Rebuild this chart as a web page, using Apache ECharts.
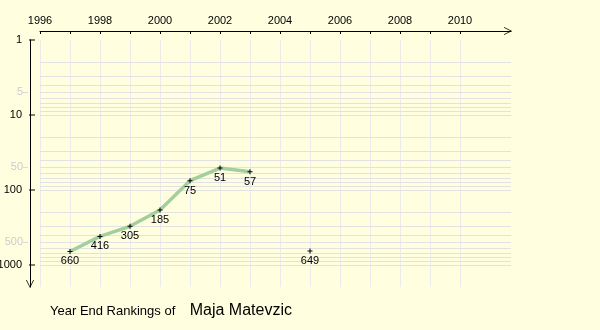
<!DOCTYPE html>
<html><head><meta charset="utf-8">
<script src="https://cdn.jsdelivr.net/npm/echarts@6/dist/echarts.min.js"></script>
<style>html,body{margin:0;padding:0;background:#ffffe0}#c{width:600px;height:330px}</style>
</head><body><div id="c"></div>
<script>
// ---- data ----
const years = [1997, 1998, 1999, 2000, 2001, 2002, 2003, 2004, 2005];
const ranks = [660, 416, 305, 185, 75, 51, 57, null, 649];
const xTickYears = [1996, 1997, 1998, 1999, 2000, 2001, 2002, 2003, 2004, 2005, 2006, 2007, 2008, 2009, 2010];
const xLabelYears = [1996, 1998, 2000, 2002, 2004, 2006, 2008, 2010];
const yMajorLabels = [1, 10, 100, 1000];
const yMinorLabels = [5, 50, 500];
const yGridValues = [2, 3, 4, 5, 6, 7, 8, 9, 10, 20, 30, 40, 50, 60, 70, 80, 90, 100, 200, 300, 400, 500, 600, 700, 800, 900, 1000];
const titleLead = 'Year End Rankings of';
const playerName = 'Maja Matevzic';

// ---- chart ----
const font = 'Liberation Sans';
const chevron = 'path://M0,10 L5,0 L10,10 L9,10 L5,2 L1,10 Z';
const plus = 'path://M2,0 L3,0 L3,2 L5,2 L5,3 L3,3 L3,5 L2,5 L2,3 L0,3 L0,2 L2,2 Z';

const seriesData = years.map((y, i) => [y, ranks[i] == null ? '-' : ranks[i]]);

const minorLabel = {
  show: true, position: 'start', distance: 12,
  formatter: p => '{v|' + p.value + '}{d|}',
  rich: {
    v: { color: '#cccccc', fontFamily: font, fontSize: 11 },
    d: { width: 5, height: 1, backgroundColor: '#dadada' }
  }
};
const majorLabel = {
  show: true, position: 'start', distance: 5,
  formatter: p => '{v|' + p.value + '}{s|}{d|}',
  rich: {
    v: { color: '#000', fontFamily: font, fontSize: 11 },
    s: { width: 7, height: 1 },
    d: { width: 6, height: 1, backgroundColor: '#000' }
  }
};
const axisValues = [1].concat(yGridValues);
const gridLines = axisValues.map(v => {
  const item = { yAxis: v, label: { show: false } };
  if (yMinorLabels.indexOf(v) >= 0) item.label = minorLabel;
  if (yMajorLabels.indexOf(v) >= 0) item.label = majorLabel;
  if (yGridValues.indexOf(v) < 0) item.lineStyle = { color: 'rgba(0,0,0,0)', width: 1 };
  return item;
});

const chart = echarts.init(document.getElementById('c'), null, { renderer: 'canvas' });
chart.setOption({
  backgroundColor: '#ffffe0',
  animation: false,
  title: {
    text: '{a|' + titleLead + '    }{b|' + playerName + '}',
    left: 45, top: 298,
    textStyle: {
      fontSize: 13, fontWeight: 'normal',
      rich: {
        a: { fontFamily: font, fontSize: 13, color: '#000', fontWeight: 'normal' },
        b: { fontFamily: font, fontSize: 16, color: '#000', fontWeight: 'normal' }
      }
    }
  },
  grid: { left: 40, right: 89, top: 40, bottom: 43, outerBoundsMode: 'none', containLabel: false },
  xAxis: {
    type: 'value', position: 'top', offset: 9, min: 1996, max: 2011.7,
    axisLine: { show: true, lineStyle: { color: '#000', width: 1 }, symbol: ['none', chevron], symbolSize: [8, 9], symbolOffset: [0, -3] },
    axisTick: { show: true, inside: false, length: -3, lineStyle: { color: '#000', width: 1 }, customValues: xTickYears },
    axisLabel: { customValues: xLabelYears, margin: 5, color: '#000', fontFamily: font, fontSize: 11, formatter: v => String(v) },
    splitLine: { show: true, lineStyle: { color: '#ebebeb', width: 1 } }
  },
  yAxis: {
    type: 'log', logBase: 10, inverse: true, min: 1, max: 1965, offset: 10,
    axisLine: { show: true, onZero: false, lineStyle: { color: '#000', width: 1 }, symbol: [chevron, 'none'], symbolSize: [8, 9], symbolOffset: [3, 0] },
    axisTick: { show: false },
    axisLabel: { show: false },
    splitLine: { show: false }
  },
  series: [
    {
      type: 'line', data: [], silent: true, z: 1,
      markLine: {
        silent: true, z: 1, symbol: ['none', 'none'], animation: false,
        lineStyle: { color: '#e2e2e2', width: 1, type: 'solid' },
        emphasis: { disabled: true },
        data: gridLines
      }
    },
    {
      type: 'line', data: seriesData, z: 3, silent: true,
      connectNulls: false,
      symbol: plus, symbolSize: 5, showSymbol: true,
      itemStyle: { color: '#000' },
      lineStyle: { color: '#a3cf9c', width: 3.5 },
      label: { show: true, position: 'bottom', distance: 2, color: '#000', fontFamily: font, fontSize: 11 },
      emphasis: { disabled: true }
    }
  ]
});
</script>
</body></html>
